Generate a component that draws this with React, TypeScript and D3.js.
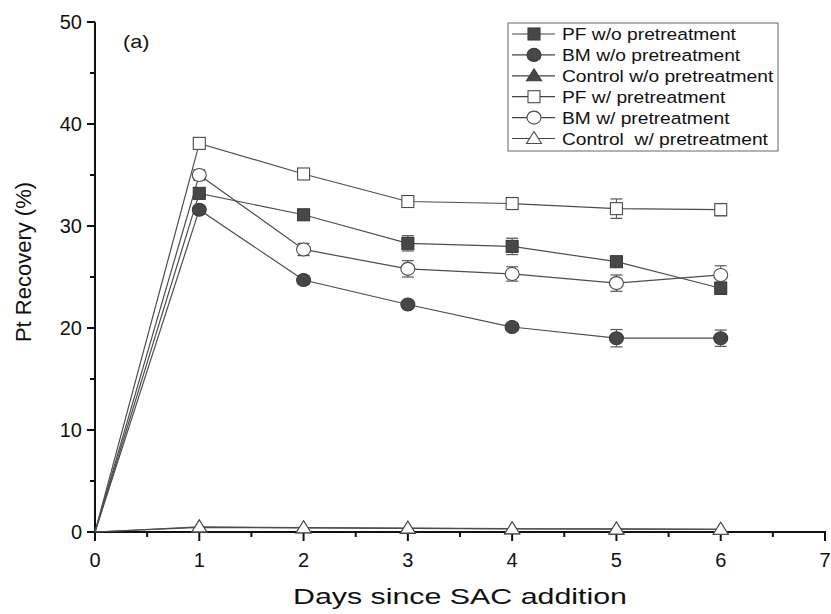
import { useRef, useEffect } from 'react';
import * as d3 from 'd3';

const W = 831;
const H = 614;

const days = [0, 1, 2, 3, 4, 5, 6];

const pfWithout = [0, 33.2, 31.1, 28.3, 28.0, 26.5, 23.9];
const bmWithout = [0, 31.6, 24.7, 22.3, 20.1, 19.0, 19.0];
const ctrlWithout = [0, 0.45, 0.4, 0.35, 0.3, 0.28, 0.25];
const pfWith = [0, 38.1, 35.1, 32.4, 32.2, 31.7, 31.6];
const bmWith = [0, 35.0, 27.7, 25.8, 25.3, 24.4, 25.2];
const ctrlWith = [0, 0.5, 0.42, 0.38, 0.32, 0.3, 0.27];

const pfWithoutErr = [0, 0.5, 0.4, 0.75, 0.8, 0.4, 0.6];
const bmWithoutErr = [0, 0.4, 0.4, 0.3, 0.3, 0.85, 0.8];
const ctrlWithoutErr = [0, 0, 0, 0, 0, 0, 0];
const pfWithErr = [0, 0.3, 0.3, 0.4, 0.45, 0.95, 0.6];
const bmWithErr = [0, 0.5, 0.6, 0.8, 0.7, 0.8, 0.9];
const ctrlWithErr = [0, 0, 0, 0, 0, 0, 0];

const labels = [
  'PF w/o pretreatment',
  'BM w/o pretreatment',
  'Control w/o pretreatment',
  'PF w/ pretreatment',
  'BM w/ pretreatment',
  'Control  w/ pretreatment',
];

const yTicks = [0, 10, 20, 30, 40, 50];
const xTicks = [0, 1, 2, 3, 4, 5, 6, 7];

type Shape = 'square' | 'circle' | 'triangle';

const series: { name: string; values: number[]; err: number[]; shape: Shape; filled: boolean }[] = [
  { name: labels[2], values: ctrlWithout, err: ctrlWithoutErr, shape: 'triangle', filled: true },
  { name: labels[5], values: ctrlWith, err: ctrlWithErr, shape: 'triangle', filled: false },
  { name: labels[1], values: bmWithout, err: bmWithoutErr, shape: 'circle', filled: true },
  { name: labels[4], values: bmWith, err: bmWithErr, shape: 'circle', filled: false },
  { name: labels[0], values: pfWithout, err: pfWithoutErr, shape: 'square', filled: true },
  { name: labels[3], values: pfWith, err: pfWithErr, shape: 'square', filled: false },
];

const legendOrder: { shape: Shape; filled: boolean }[] = [
  { shape: 'square', filled: true },
  { shape: 'circle', filled: true },
  { shape: 'triangle', filled: true },
  { shape: 'square', filled: false },
  { shape: 'circle', filled: false },
  { shape: 'triangle', filled: false },
];

const FONT = "'Liberation Sans', Arial, sans-serif";

function drawMarker(
  g: d3.Selection<SVGGElement, unknown, null, undefined>,
  shape: Shape,
  filled: boolean,
  cx: number,
  cy: number,
) {
  const fill = filled ? '#474747' : '#ffffff';
  const stroke = filled ? '#3a3a3a' : '#4a4a4a';
  if (shape === 'square') {
    g.append('rect')
      .attr('x', cx - 6)
      .attr('y', cy - 6)
      .attr('width', 12)
      .attr('height', 12)
      .attr('fill', fill)
      .attr('stroke', stroke)
      .attr('stroke-width', 1.1);
  } else if (shape === 'circle') {
    g.append('ellipse')
      .attr('cx', cx)
      .attr('cy', cy)
      .attr('rx', 7)
      .attr('ry', 6.5)
      .attr('fill', fill)
      .attr('stroke', stroke)
      .attr('stroke-width', 1.1);
  } else {
    g.append('path')
      .attr('d', `M${cx},${cy - 7}L${cx + 7.5},${cy + 5}L${cx - 7.5},${cy + 5}Z`)
      .attr('fill', fill)
      .attr('stroke', stroke)
      .attr('stroke-width', 1.1);
  }
}

export default function App() {
  const svgRef = useRef<SVGSVGElement>(null);

  useEffect(() => {
    const svg = d3.select(svgRef.current);
    svg.selectAll('*').remove();

    const x = d3.scaleLinear().domain([0, 7]).range([95, 825]);
    const y = d3.scaleLinear().domain([0, 50]).range([532, 22]);

    svg.append('rect').attr('width', W).attr('height', H).attr('fill', '#ffffff');

    // axes
    const axes = svg.append('g').attr('stroke', '#111').attr('stroke-width', 2);
    axes.append('line').attr('x1', x(0)).attr('x2', x(0)).attr('y1', y(50)).attr('y2', y(0) + 1);
    axes.append('line').attr('x1', x(0) - 1).attr('x2', x(7) + 1).attr('y1', y(0)).attr('y2', y(0));

    // y ticks
    yTicks.forEach((t) => {
      axes.append('line').attr('x1', x(0) - 8).attr('x2', x(0)).attr('y1', y(t)).attr('y2', y(t));
      svg
        .append('text')
        .attr('x', x(0) - 13)
        .attr('y', y(t) + 7)
        .attr('text-anchor', 'end')
        .attr('font-family', FONT)
        .attr('font-size', 20)
        .attr('fill', '#111')
        .text(t);
    });
    d3.range(5, 50, 10).forEach((t) => {
      axes.append('line').attr('x1', x(0) - 5).attr('x2', x(0)).attr('y1', y(t)).attr('y2', y(t));
    });

    // x ticks
    xTicks.forEach((t) => {
      axes.append('line').attr('x1', x(t)).attr('x2', x(t)).attr('y1', y(0)).attr('y2', y(0) + 9);
      svg
        .append('text')
        .attr('x', x(t))
        .attr('y', y(0) + 35)
        .attr('text-anchor', 'middle')
        .attr('font-family', FONT)
        .attr('font-size', 20)
        .attr('fill', '#111')
        .text(t);
    });
    d3.range(0.5, 7, 1).forEach((t) => {
      axes.append('line').attr('x1', x(t)).attr('x2', x(t)).attr('y1', y(0)).attr('y2', y(0) + 5);
    });

    // titles
    svg
      .append('text')
      .attr('transform', 'translate(31,262) rotate(-90)')
      .attr('text-anchor', 'middle')
      .attr('font-family', FONT)
      .attr('font-size', 22)
      .attr('fill', '#111')
      .text('Pt Recovery (%)');
    svg
      .append('text')
      .attr('transform', 'translate(460,604) scale(1.38,1)')
      .attr('text-anchor', 'middle')
      .attr('font-family', FONT)
      .attr('font-size', 22)
      .attr('fill', '#111')
      .text('Days since SAC addition');
    svg
      .append('text')
      .attr('transform', 'translate(123,48) scale(1.2,1)')
      .attr('font-family', FONT)
      .attr('font-size', 18)
      .attr('fill', '#111')
      .text('(a)');

    // series
    const line = d3
      .line<number>()
      .x((_, i) => x(days[i]))
      .y((v) => y(v));

    const plot = svg.append('g');
    series.forEach((s) => {
      plot
        .append('path')
        .attr('d', line(s.values))
        .attr('fill', 'none')
        .attr('stroke', '#4d4d4d')
        .attr('stroke-width', 1.2);
    });
    series.forEach((s) => {
      const g = plot.append('g');
      s.values.forEach((v, i) => {
        if (i === 0) return;
        const e = s.err[i];
        const cx = x(days[i]);
        if (e > 0) {
          g.append('line')
            .attr('x1', cx)
            .attr('x2', cx)
            .attr('y1', y(v + e))
            .attr('y2', y(v - e))
            .attr('stroke', '#555')
            .attr('stroke-width', 1);
          [v + e, v - e].forEach((yy) => {
            g.append('line')
              .attr('x1', cx - 6)
              .attr('x2', cx + 6)
              .attr('y1', y(yy))
              .attr('y2', y(yy))
              .attr('stroke', '#555')
              .attr('stroke-width', 1.2);
          });
        }
        drawMarker(g, s.shape, s.filled, cx, y(v));
      });
    });

    // legend
    const lg = svg.append('g');
    lg.append('rect')
      .attr('x', 508)
      .attr('y', 23)
      .attr('width', 270)
      .attr('height', 128)
      .attr('fill', '#ffffff')
      .attr('stroke', '#666')
      .attr('stroke-width', 1);
    labels.forEach((name, i) => {
      const cy = 34 + i * 20.9;
      const row = lg.append('g');
      row.append('line')
        .attr('x1', 512)
        .attr('x2', 555)
        .attr('y1', cy)
        .attr('y2', cy)
        .attr('stroke', '#444')
        .attr('stroke-width', 1.2);
      drawMarker(row, legendOrder[i].shape, legendOrder[i].filled, 534, cy);
      row.append('text')
        .attr('transform', `translate(562,${cy + 6}) scale(1.13,1)`)
        .attr('font-family', FONT)
        .attr('font-size', 17)
        .attr('fill', '#111')
        .style('white-space', 'pre')
        .text(name);
    });
  }, []);

  return (
    <svg
      ref={svgRef}
      width={W}
      height={H}
      style={{ position: 'absolute', left: 0, top: 0 }}
    />
  );
}
